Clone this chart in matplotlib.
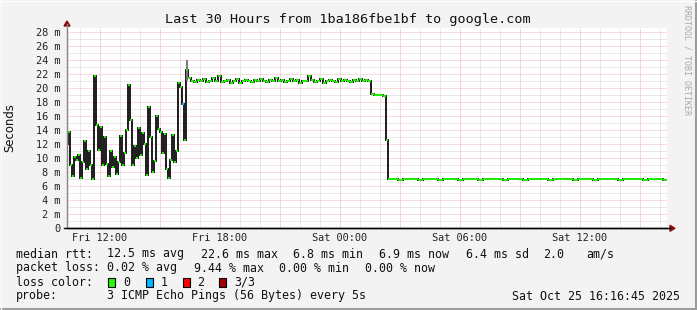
import numpy as np
import matplotlib
matplotlib.use('Agg')
import matplotlib.pyplot as plt
from matplotlib.lines import Line2D
from matplotlib.patches import Rectangle, Polygon

W, H = 697, 310

# time axis in hours since Fri 00:00, median rtt in ms
noisy_start, noisy_step = 10.35, 0.1
noisy_rtt = [12.0, 13.8, 9.0, 7.4, 10.2, 9.8, 10.4, 7.2, 9.5, 12.4,
             8.5, 11.0, 9.0, 7.0, 21.8, 14.8, 11.2, 14.4, 9.0, 13.0,
             9.2, 7.4, 11.0, 8.8, 10.2, 7.8, 9.4, 13.2, 9.0, 10.8,
             14.0, 20.5, 15.5, 9.0, 11.8, 10.0, 14.3, 10.5, 13.6, 12.0,
             7.6, 17.3, 13.0, 8.0, 9.6, 16.0, 14.2, 13.8, 10.8, 13.5,
             8.5, 7.2, 9.8, 13.3, 9.5, 11.0, 20.8, 20.2, 17.8, 12.6,
             22.6]

plateau_start, plateau_step = 16.475, 0.15
plateau_rtt = [21.5, 21.0, 20.9, 21.2, 21.0, 21.3, 20.9, 21.1, 21.4, 21.0,
               21.8, 20.9, 21.0, 21.2, 20.8, 21.1, 21.3, 20.8, 21.0, 21.2,
               21.0, 20.9, 21.2, 21.1, 21.3, 21.0, 20.9, 21.2, 21.1, 21.4,
               21.0, 21.2, 20.9, 21.1, 21.3, 21.0, 21.2, 20.8, 21.1, 21.0,
               21.7, 21.2, 20.9, 21.1, 21.3, 20.8, 21.0, 21.2, 21.1, 20.9,
               21.3, 21.0, 21.2, 21.1, 20.9, 21.2, 21.0, 21.3, 21.1, 21.2,
               21.0]

shelf_start, shelf_step = 25.625, 0.15
shelf_rtt = [19.2, 19.1, 19.0, 19.1, 18.9]

drop_start, drop_step = 26.35, 0.1
drop_rtt = [12.6]

low_start, low_step = 26.525, 0.25
low_rtt = [7.0, 7.1, 6.9, 7.0, 7.0, 7.1, 6.9, 7.0, 7.1, 7.0,
           6.9, 7.0, 7.1, 7.0, 6.9, 7.0, 7.0, 7.1, 6.9, 7.0,
           7.1, 7.0, 7.0, 6.9, 7.0, 7.1, 7.0, 6.9, 7.0, 7.0,
           7.1, 7.0, 6.9, 7.0, 7.1, 7.0, 7.0, 6.9, 7.1, 7.0,
           7.0, 6.9, 7.0, 7.1, 7.0, 7.0, 6.9, 7.0, 7.1, 7.0,
           7.0, 6.9, 7.0, 7.1, 7.0, 6.9]

# one ping of three lost
loss1_hour = [16.15]
loss1_rtt = [17.8]
# smoke spike above the median
spike_hour = [16.35]
spike_lo = [21.0]
spike_hi = [24.0]

tick_hours = [12, 18, 24, 30, 36]
tick_labels = ['Fri 12:00', 'Fri 18:00', 'Sat 00:00', 'Sat 06:00', 'Sat 12:00']

segments = [(noisy_start, noisy_step, noisy_rtt), (plateau_start, plateau_step, plateau_rtt),
            (shelf_start, shelf_step, shelf_rtt), (drop_start, drop_step, drop_rtt),
            (low_start, low_step, low_rtt)]
hours, steps, rtt = [], [], []
for start, step, vals in segments:
    hours.append(start + step * np.arange(len(vals)))
    steps.append(np.full(len(vals), step))
    rtt.append(vals)
hours = np.concatenate(hours)
steps = np.concatenate(steps)
rtt = np.concatenate(rtt)
left = hours - steps / 2
right = hours + steps / 2
edges = np.append(left, right[-1])

GREEN = '#20ff00'
BLUE = '#00b8ff'
RED = '#ff0000'
DARKRED = '#a00000'
MONO = 'DejaVu Sans Mono'

fig = plt.figure(figsize=(W / 100, H / 100), dpi=100)
fig.patch.set_facecolor('#f3f3f3')

x0, x1, ytop, ybot = 67, 667, 27.7, 228.3
ax = fig.add_axes([x0 / W, (H - ybot) / H, (x1 - x0) / W, (ybot - ytop) / H])
ax.set_facecolor('white')
ax.set_xlim(10.35, 40.35)
ax.set_ylim(0, 28.65)

# grid
dots = (0, (1, 1))
for h in range(11, 41):
    c = '#f5a8a8' if h % 3 == 0 else '#d4d4d4'
    ax.axvline(h, color=c, lw=0.72, ls=dots, zorder=0)
for v in range(1, 29):
    c = '#f5b8b8' if v % 2 == 0 else '#d4d4d4'
    ax.axhline(v, color=c, lw=0.72, ls=dots, zorder=0)

# smoke + median
ax.stairs(rtt, edges, baseline=None, color='#1c1c1c', lw=1.4, zorder=2)
ax.vlines(spike_hour, spike_lo, spike_hi, color='#777777', lw=1.4, zorder=2)
ax.hlines(rtt, left, right, color=GREEN, lw=1.3, zorder=3)
ax.hlines(loss1_rtt, np.array(loss1_hour) - 0.05, np.array(loss1_hour) + 0.05,
          color=BLUE, lw=1.6, zorder=4)

for s in ['top', 'right']:
    ax.spines[s].set_visible(False)
ax.spines['left'].set_color('#888888')
ax.spines['left'].set_linewidth(0.9)
ax.spines['bottom'].set_color('black')
ax.spines['bottom'].set_linewidth(1.0)

ax.set_yticks(range(0, 29, 2))
ax.set_yticklabels(['0'] + ['%d m' % v for v in range(2, 29, 2)])
ax.set_xticks(tick_hours)
ax.set_xticklabels(tick_labels)
ax.tick_params(axis='y', length=0, pad=5, labelsize=7.4, labelcolor='#222222')
ax.tick_params(axis='x', length=0, pad=3.5, labelsize=7.4, labelcolor='#222222')
for lab in ax.get_xticklabels() + ax.get_yticklabels():
    lab.set_family(MONO)

# axis arrows
fig.add_artist(Line2D([x0 / W, x0 / W], [(H - ybot) / H, (H - 24) / H], color='#888888', lw=0.9))
fig.add_artist(Line2D([64 / W, 670 / W], [(H - ybot) / H] * 2, color='black', lw=1.0))
fig.add_artist(Polygon([[(x0 - 3) / W, (H - 26) / H], [(x0 + 3) / W, (H - 26) / H], [x0 / W, (H - 21) / H]],
                       closed=True, transform=fig.transFigure, color='#8b1010'))
fig.add_artist(Polygon([[670 / W, (H - ybot + 3) / H], [670 / W, (H - ybot - 3) / H], [675 / W, (H - ybot) / H]],
                       closed=True, transform=fig.transFigure, color='#8b1010'))

def ptext(x, y, s, **kw):
    kw.setdefault('family', MONO)
    kw.setdefault('fontsize', 8.4)
    kw.setdefault('color', '#111111')
    kw.setdefault('va', 'center')
    fig.text(x / W, (H - y) / H, s, **kw)

ptext(347.5, 19, 'Last 30 Hours from 1ba186fbe1bf to google.com', fontsize=9.7, ha='center')
ptext(10, 127.5, 'Seconds', family='DejaVu Sans', rotation=90, ha='center')
ptext(687, 60, 'RRDTOOL / TOBI OETIKER', fontsize=6, rotation=270, ha='center', color='#a8a8a8')

ptext(16, 254, 'median rtt:')
for x, s in [(107.3, '12.5 ms avg'), (201, '22.6 ms max'), (293.3, '6.8 ms min'),
             (379.3, '6.9 ms now'), (466, '6.4 ms sd'), (543.3, '2.0'), (586.7, 'am/s')]:
    ptext(x, 254, s)
ptext(16, 268, 'packet loss:')
for x, s in [(107.3, '0.02 % avg'), (194, '9.44 % max'), (279.3, '0.00 % min'), (365, '0.00 % now')]:
    ptext(x, 268, s)
ptext(16, 282, 'loss color:')
for x, c, s in [(108, GREEN, '0'), (145.5, BLUE, '1'), (182.5, RED, '2'), (219, DARKRED, '3/3')]:
    fig.add_artist(Rectangle((x / W, (H - 287) / H), 7 / W, 9 / H, transform=fig.transFigure,
                             facecolor=c, edgecolor='black', lw=0.8))
    ptext(x + 15, 282, s)
ptext(16, 296, 'probe:')
ptext(107.3, 296, '3 ICMP Echo Pings (56 Bytes) every 5s')
ptext(680, 296, 'Sat Oct 25 16:16:45 2025', ha='right')

# canvas border
fig.add_artist(Line2D([0, 1], [1 / H, 1 / H], color='#9c9c9c', lw=1.5))
fig.add_artist(Line2D([1 - 1 / W, 1 - 1 / W], [0, 1], color='#9c9c9c', lw=1.5))
fig.add_artist(Line2D([0, 1], [1 - 0.5 / H, 1 - 0.5 / H], color='#fdfdfd', lw=1.0))
fig.add_artist(Line2D([0.5 / W, 0.5 / W], [0, 1], color='#fdfdfd', lw=1.0))

fig.savefig('out.png', dpi=100, facecolor=fig.get_facecolor())
